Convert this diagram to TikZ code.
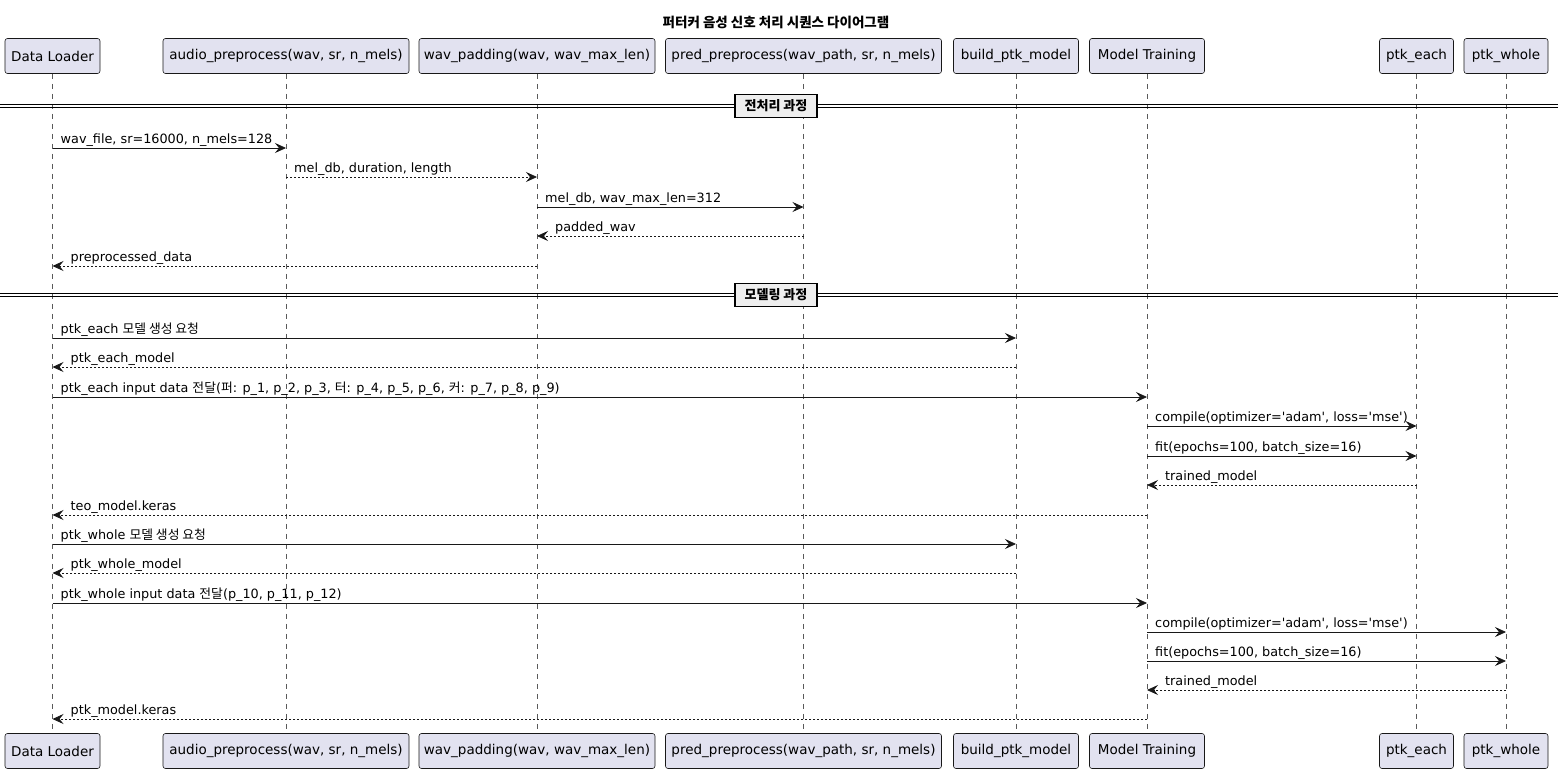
\documentclass[tikz,border=0pt]{standalone}
\usepackage{fontspec}
\setmainfont{DejaVu Sans}
\newfontfamily\plainsans{DejaVu Sans}
\newfontfamily\kr{Noto Sans CJK KR}
\usetikzlibrary{arrows.meta,calc}
\definecolor{partfill}{RGB}{226,226,240}
\definecolor{sepfill}{RGB}{238,238,238}
\definecolor{lifegray}{RGB}{90,90,90}
\definecolor{ink}{RGB}{24,24,24}
\tikzset{
  participant/.style={draw=ink, fill=partfill, rounded corners=2.5pt,
    minimum height=35pt, inner xsep=4pt, line width=0.6pt, font=\fontsize{13.5}{15}\selectfont},
  lifeline/.style={draw=lifegray, dash pattern=on 5pt off 5pt, line width=0.5pt},
  msg/.style={draw=ink, line width=0.8pt,
    -{Stealth[length=11pt,width=10pt,inset=4pt]}},
  ret/.style={msg, dash pattern=on 2pt off 2pt},
  lbl/.style={font=\plainsans\fontsize{12.8}{15}\selectfont, anchor=base west, inner sep=0pt},
  sepline/.style={draw=black, line width=0.9pt},
  sepbox/.style={draw=black, fill=sepfill, line width=1.6pt, minimum height=23pt, minimum width=82pt,
    inner xsep=5pt, font=\fontsize{13}{15}\selectfont\kr\bfseries},
}
\newcommand\goR[5]{%
  \draw[#1] (#2 |- #4) -- (#3 |- #4);
  \node[lbl] (#4l) at ($(#2 |- #4)+(8,-5)$) {#5};}
\newcommand\goL[5]{%
  \draw[#1] (#2 |- #4) -- (#3 |- #4);
  \node[lbl] (#4l) at ($(#3 |- #4)+(18,-5)$) {#5};}
\begin{document}
\begin{tikzpicture}[x=1pt,y=-1pt]
\useasboundingbox (0,0) rectangle (1558,771);
\node[font=\fontsize{13.5}{15}\selectfont\kr\bfseries] (title) at (776,22) {퍼터커 음성 신호 처리 시퀀스 다이어그램};

% participants top
\node[participant, minimum width=95pt] (dl) at (52.5,56) {Data Loader};
\node[participant, minimum width=246pt] (ap) at (286,56) {audio\_preprocess(wav, sr, n\_mels)};
\node[participant, minimum width=236pt] (wp) at (537,56) {wav\_padding(wav, wav\_max\_len)};
\node[participant, minimum width=276pt] (pp) at (803.5,56) {pred\_preprocess(wav\_path, sr, n\_mels)};
\node[participant, minimum width=125pt] (bp) at (1016,56) {build\_ptk\_model};
\node[participant, minimum width=115pt] (mt) at (1147,56) {Model Training};
\node[participant, minimum width=74pt] (pe) at (1416.5,56) {ptk\_each};
\node[participant, minimum width=84pt] (pw) at (1506,56) {ptk\_whole};
% participants bottom
\node[participant, minimum width=95pt] (dlb) at (52.5,751) {Data Loader};
\node[participant, minimum width=246pt] (apb) at (286,751) {audio\_preprocess(wav, sr, n\_mels)};
\node[participant, minimum width=236pt] (wpb) at (537,751) {wav\_padding(wav, wav\_max\_len)};
\node[participant, minimum width=276pt] (ppb) at (803.5,751) {pred\_preprocess(wav\_path, sr, n\_mels)};
\node[participant, minimum width=125pt] (bpb) at (1016,751) {build\_ptk\_model};
\node[participant, minimum width=115pt] (mtb) at (1147,751) {Model Training};
\node[participant, minimum width=74pt] (peb) at (1416.5,751) {ptk\_each};
\node[participant, minimum width=84pt] (pwb) at (1506,751) {ptk\_whole};
% lifelines
\foreach \p in {dl,ap,wp,pp,bp,mt,pe,pw} {\draw[lifeline] (\p.south) -- (\p b.north);}

% dividers (double lines)
\coordinate (s1a) at (0,104); \coordinate (s1b) at (1558,104);
\coordinate (s1c) at (0,107.7); \coordinate (s1d) at (1558,107.7);
\draw[sepline] (s1a) -- (s1b);
\draw[sepline] (s1c) -- (s1d);
\node[sepbox] (sep1) at (776,105.8) {전처리 과정};
\coordinate (s2a) at (0,293.2); \coordinate (s2b) at (1558,293.2);
\coordinate (s2c) at (0,296.9); \coordinate (s2d) at (1558,296.9);
\draw[sepline] (s2a) -- (s2b);
\draw[sepline] (s2c) -- (s2d);
\node[sepbox] (sep2) at (776,295) {모델링 과정};

% message rows
\coordinate (r1) at (0,148);
\coordinate (r2) at (0,177);
\coordinate (r3) at (0,207);
\coordinate (r4) at (0,236);
\coordinate (r5) at (0,266);
\coordinate (r6) at (0,338);
\coordinate (r7) at (0,367);
\coordinate (r8) at (0,397);
\coordinate (r9) at (0,426);
\coordinate (r10) at (0,456);
\coordinate (r11) at (0,485);
\coordinate (r12) at (0,515);
\coordinate (r13) at (0,544);
\coordinate (r14) at (0,573);
\coordinate (r15) at (0,603);
\coordinate (r16) at (0,632);
\coordinate (r17) at (0,661);
\coordinate (r18) at (0,690);
\coordinate (r19) at (0,719);

\goR{msg}{dl}{ap}{r1}{wav\_file, sr=16000, n\_mels=128}
\goR{ret}{ap}{wp}{r2}{mel\_db, duration, length}
\goR{msg}{wp}{pp}{r3}{mel\_db, wav\_max\_len=312}
\goL{ret}{pp}{wp}{r4}{padded\_wav}
\goL{ret}{wp}{dl}{r5}{preprocessed\_data}

\goR{msg}{dl}{bp}{r6}{ptk\_each {\kr 모델 생성 요청}}
\goL{ret}{bp}{dl}{r7}{ptk\_each\_model}
\goR{msg}{dl}{mt}{r8}{ptk\_each input data {\kr 전달}({\kr 퍼}: p\_1, p\_2, p\_3, {\kr 터}: p\_4, p\_5, p\_6, {\kr 커}: p\_7, p\_8, p\_9)}
\goR{msg}{mt}{pe}{r9}{compile(optimizer='adam', loss='mse')}
\goR{msg}{mt}{pe}{r10}{fit(epochs=100, batch\_size=16)}
\goL{ret}{pe}{mt}{r11}{trained\_model}
\goL{ret}{mt}{dl}{r12}{teo\_model.keras}
\goR{msg}{dl}{bp}{r13}{ptk\_whole {\kr 모델 생성 요청}}
\goL{ret}{bp}{dl}{r14}{ptk\_whole\_model}
\goR{msg}{dl}{mt}{r15}{ptk\_whole input data {\kr 전달}(p\_10, p\_11, p\_12)}
\goR{msg}{mt}{pw}{r16}{compile(optimizer='adam', loss='mse')}
\goR{msg}{mt}{pw}{r17}{fit(epochs=100, batch\_size=16)}
\goL{ret}{pw}{mt}{r18}{trained\_model}
\goL{ret}{mt}{dl}{r19}{ptk\_model.keras}
\end{tikzpicture}
\end{document}
